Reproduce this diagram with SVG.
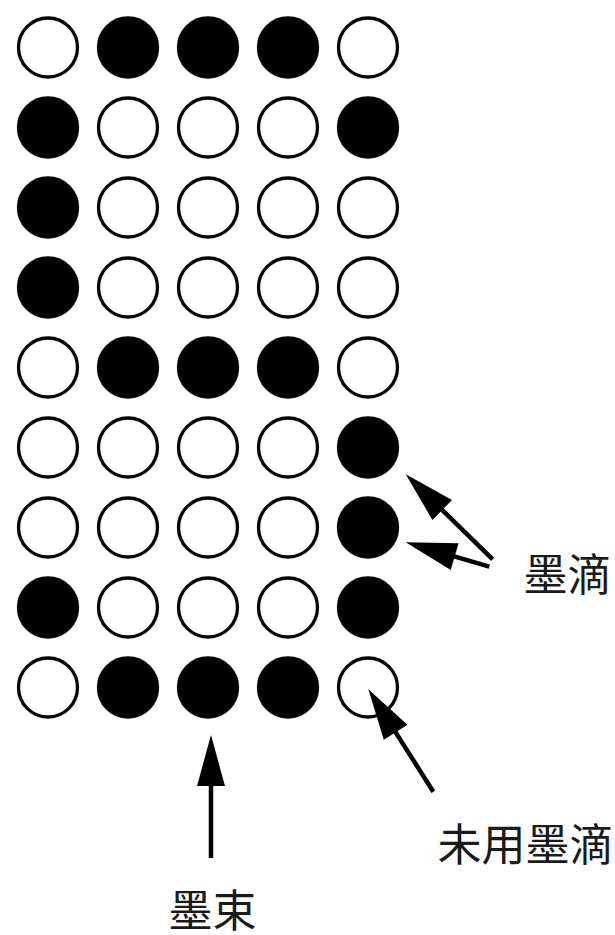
<svg xmlns="http://www.w3.org/2000/svg" width="615" height="935" viewBox="0 0 615 935">
<style>
.o{fill:#fff;stroke:#000;stroke-width:3.3}
.f{fill:#000;stroke:#000;stroke-width:3.3}
.c{stroke:#000;stroke-width:4.5;fill:none}
.t{font-family:"Noto Sans CJK SC","Noto Sans CJK JP",sans-serif;font-size:44px;fill:#1a1a1a;text-anchor:middle}
</style>
<defs>
<marker id="ah" markerUnits="userSpaceOnUse" markerWidth="52" markerHeight="40" refX="21" refY="20" orient="auto" overflow="visible">
<path d="M0,6 L51,20 L0,34 Z" fill="#000"/>
</marker>
</defs>
<rect width="615" height="935" fill="#fff"/>
<g id="grid">
<g id="r1"><circle class="o" cx="48" cy="47.5" r="29.5"/><circle class="f" cx="128" cy="47.5" r="29.5"/><circle class="f" cx="208" cy="47.5" r="29.5"/><circle class="f" cx="288" cy="47.5" r="29.5"/><circle class="o" cx="368" cy="47.5" r="29.5"/></g>
<g id="r2"><circle class="f" cx="48" cy="127.5" r="29.5"/><circle class="o" cx="128" cy="127.5" r="29.5"/><circle class="o" cx="208" cy="127.5" r="29.5"/><circle class="o" cx="288" cy="127.5" r="29.5"/><circle class="f" cx="368" cy="127.5" r="29.5"/></g>
<g id="r3"><circle class="f" cx="48" cy="207.5" r="29.5"/><circle class="o" cx="128" cy="207.5" r="29.5"/><circle class="o" cx="208" cy="207.5" r="29.5"/><circle class="o" cx="288" cy="207.5" r="29.5"/><circle class="o" cx="368" cy="207.5" r="29.5"/></g>
<g id="r4"><circle class="f" cx="48" cy="287.5" r="29.5"/><circle class="o" cx="128" cy="287.5" r="29.5"/><circle class="o" cx="208" cy="287.5" r="29.5"/><circle class="o" cx="288" cy="287.5" r="29.5"/><circle class="o" cx="368" cy="287.5" r="29.5"/></g>
<g id="r5"><circle class="o" cx="48" cy="367.5" r="29.5"/><circle class="f" cx="128" cy="367.5" r="29.5"/><circle class="f" cx="208" cy="367.5" r="29.5"/><circle class="f" cx="288" cy="367.5" r="29.5"/><circle class="o" cx="368" cy="367.5" r="29.5"/></g>
<g id="r6"><circle class="o" cx="48" cy="447.5" r="29.5"/><circle class="o" cx="128" cy="447.5" r="29.5"/><circle class="o" cx="208" cy="447.5" r="29.5"/><circle class="o" cx="288" cy="447.5" r="29.5"/><circle class="f" cx="368" cy="447.5" r="29.5"/></g>
<g id="r7"><circle class="o" cx="48" cy="527.5" r="29.5"/><circle class="o" cx="128" cy="527.5" r="29.5"/><circle class="o" cx="208" cy="527.5" r="29.5"/><circle class="o" cx="288" cy="527.5" r="29.5"/><circle class="f" cx="368" cy="527.5" r="29.5"/></g>
<g id="r8"><circle class="f" cx="48" cy="607.5" r="29.5"/><circle class="o" cx="128" cy="607.5" r="29.5"/><circle class="o" cx="208" cy="607.5" r="29.5"/><circle class="o" cx="288" cy="607.5" r="29.5"/><circle class="f" cx="368" cy="607.5" r="29.5"/></g>
<g id="r9"><circle class="o" cx="48" cy="687.5" r="29.5"/><circle class="f" cx="128" cy="687.5" r="29.5"/><circle class="f" cx="208" cy="687.5" r="29.5"/><circle class="f" cx="288" cy="687.5" r="29.5"/><circle class="o" cx="368" cy="687.5" r="29.5"/></g>
</g>
<g id="connectors">
<line class="c" x1="492.7" y1="559.3" x2="427.2" y2="495.3" marker-end="url(#ah)"/>
<line class="c" x1="489.3" y1="566.7" x2="434.5" y2="550.7" marker-end="url(#ah)"/>
<line class="c" x1="211" y1="858" x2="211" y2="765" marker-end="url(#ah)"/>
<line class="c" x1="433.3" y1="791.7" x2="384.4" y2="714.6" marker-end="url(#ah)"/>
</g>
<g id="label-drops"><text class="t" x="567.5" y="591">墨滴</text></g>
<g id="label-unused"><text class="t" x="525.5" y="861">未用墨滴</text></g>
<g id="label-beam"><text class="t" x="212.5" y="927">墨束</text></g>
</svg>
